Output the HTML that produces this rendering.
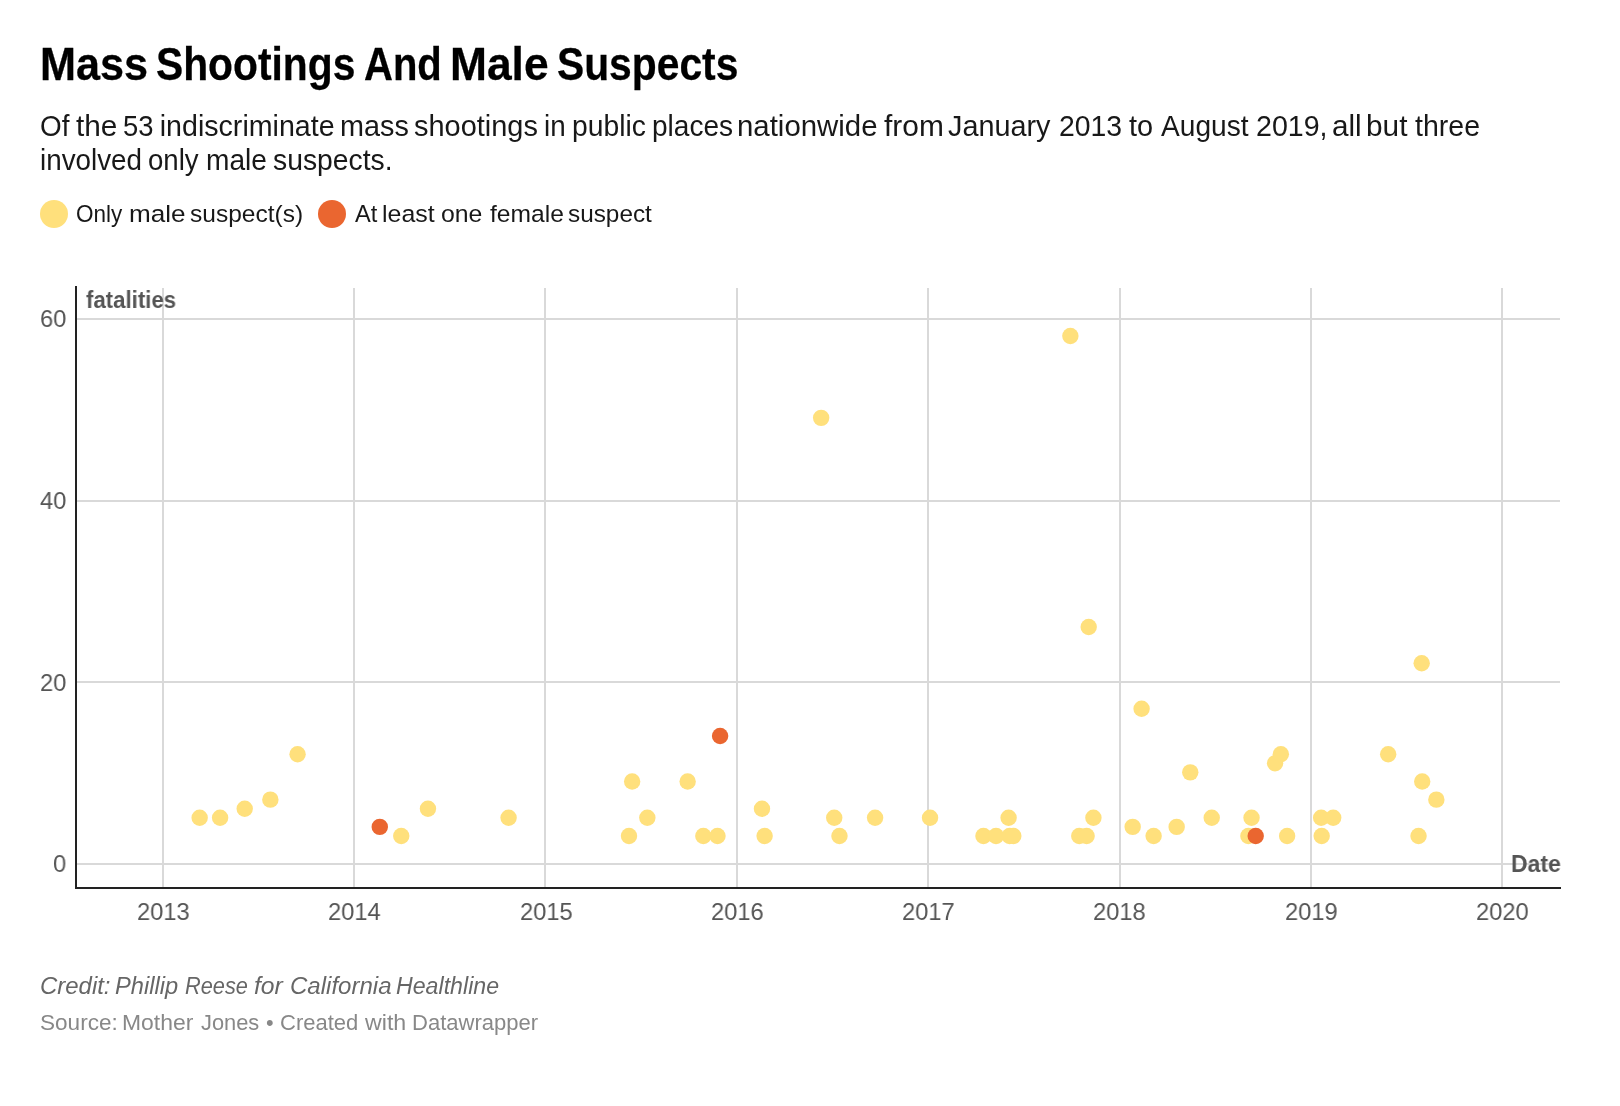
<!DOCTYPE html>
<html lang="en">
<head>
<meta charset="utf-8">
<title>Mass Shootings And Male Suspects</title>
<style>
html,body{margin:0;padding:0;background:#fff;}
body{width:1620px;height:1106px;position:relative;overflow:hidden;font-family:"Liberation Sans",sans-serif;}
.t{position:absolute;white-space:nowrap;line-height:1;transform-origin:0 0;margin:0;padding:0;display:block;will-change:transform;}
.w{position:absolute;top:0;display:block;transform-origin:0 0;}
.gv,.gh,.ax{position:absolute;}
.gv,.gh{background:#d9d9d9;}
.ax{background:#222222;}
.y{background:#ffe07c;}
.r{background:#ea6630;}
#title{-webkit-text-stroke:0.27px #000;}
.dots{position:absolute;left:0;top:0;}
.lg{position:absolute;border-radius:50%;width:28px;height:28px;top:200px;}

</style>
</head>
<body>
<div class="chart">
<div class="gv" style="left:162px;top:288px;width:2px;height:599px"></div>
<div class="gv" style="left:353px;top:288px;width:2px;height:599px"></div>
<div class="gv" style="left:544px;top:288px;width:2px;height:599px"></div>
<div class="gv" style="left:736px;top:288px;width:2px;height:599px"></div>
<div class="gv" style="left:927px;top:288px;width:2px;height:599px"></div>
<div class="gv" style="left:1119px;top:288px;width:2px;height:599px"></div>
<div class="gv" style="left:1310px;top:288px;width:2px;height:599px"></div>
<div class="gv" style="left:1501px;top:288px;width:2px;height:599px"></div>
<div class="gh" style="left:77px;top:318px;width:1483px;height:2px"></div>
<div class="gh" style="left:77px;top:500px;width:1483px;height:2px"></div>
<div class="gh" style="left:77px;top:681px;width:1483px;height:2px"></div>
<div class="gh" style="left:77px;top:863px;width:1483px;height:2px"></div>
<div class="ax" style="left:75px;top:286px;width:2px;height:603px"></div>
<div class="ax" style="left:75px;top:887px;width:1486px;height:2px"></div>
<div class="lg y" style="left:40px"></div><div class="lg r" style="left:318px"></div>
<svg class="dots" width="1620" height="1106" viewBox="0 0 1620 1106">
<circle cx="199.67" cy="817.82" r="8.20" fill="#ffe07c"/>
<circle cx="220.09" cy="817.82" r="8.20" fill="#ffe07c"/>
<circle cx="244.70" cy="808.73" r="8.20" fill="#ffe07c"/>
<circle cx="270.36" cy="799.64" r="8.20" fill="#ffe07c"/>
<circle cx="297.58" cy="754.19" r="8.20" fill="#ffe07c"/>
<circle cx="379.78" cy="826.91" r="8.20" fill="#ea6630"/>
<circle cx="401.25" cy="836.00" r="8.20" fill="#ffe07c"/>
<circle cx="427.95" cy="808.73" r="8.20" fill="#ffe07c"/>
<circle cx="508.58" cy="817.82" r="8.20" fill="#ffe07c"/>
<circle cx="629.00" cy="836.00" r="8.20" fill="#ffe07c"/>
<circle cx="632.14" cy="781.46" r="8.20" fill="#ffe07c"/>
<circle cx="647.33" cy="817.82" r="8.20" fill="#ffe07c"/>
<circle cx="687.64" cy="781.46" r="8.20" fill="#ffe07c"/>
<circle cx="703.35" cy="836.00" r="8.20" fill="#ffe07c"/>
<circle cx="717.48" cy="836.00" r="8.20" fill="#ffe07c"/>
<circle cx="720.10" cy="736.01" r="8.20" fill="#ea6630"/>
<circle cx="761.99" cy="808.73" r="8.20" fill="#ffe07c"/>
<circle cx="764.61" cy="836.00" r="8.20" fill="#ffe07c"/>
<circle cx="821.15" cy="417.86" r="8.20" fill="#ffe07c"/>
<circle cx="834.24" cy="817.82" r="8.20" fill="#ffe07c"/>
<circle cx="839.48" cy="836.00" r="8.20" fill="#ffe07c"/>
<circle cx="875.08" cy="817.82" r="8.20" fill="#ffe07c"/>
<circle cx="930.05" cy="817.82" r="8.20" fill="#ffe07c"/>
<circle cx="983.46" cy="836.00" r="8.20" fill="#ffe07c"/>
<circle cx="996.02" cy="836.00" r="8.20" fill="#ffe07c"/>
<circle cx="1008.59" cy="817.82" r="8.20" fill="#ffe07c"/>
<circle cx="1009.64" cy="836.00" r="8.20" fill="#ffe07c"/>
<circle cx="1013.30" cy="836.00" r="8.20" fill="#ffe07c"/>
<circle cx="1070.37" cy="336.05" r="8.20" fill="#ffe07c"/>
<circle cx="1079.27" cy="836.00" r="8.20" fill="#ffe07c"/>
<circle cx="1086.60" cy="836.00" r="8.20" fill="#ffe07c"/>
<circle cx="1088.70" cy="626.93" r="8.20" fill="#ffe07c"/>
<circle cx="1093.41" cy="817.82" r="8.20" fill="#ffe07c"/>
<circle cx="1132.68" cy="826.91" r="8.20" fill="#ffe07c"/>
<circle cx="1141.58" cy="708.74" r="8.20" fill="#ffe07c"/>
<circle cx="1153.62" cy="836.00" r="8.20" fill="#ffe07c"/>
<circle cx="1176.66" cy="826.91" r="8.20" fill="#ffe07c"/>
<circle cx="1190.27" cy="772.37" r="8.20" fill="#ffe07c"/>
<circle cx="1211.73" cy="817.82" r="8.20" fill="#ffe07c"/>
<circle cx="1248.38" cy="836.00" r="8.20" fill="#ffe07c"/>
<circle cx="1251.53" cy="817.82" r="8.20" fill="#ffe07c"/>
<circle cx="1255.71" cy="836.00" r="8.20" fill="#ea6630"/>
<circle cx="1275.09" cy="763.28" r="8.20" fill="#ffe07c"/>
<circle cx="1280.85" cy="754.19" r="8.20" fill="#ffe07c"/>
<circle cx="1287.13" cy="836.00" r="8.20" fill="#ffe07c"/>
<circle cx="1321.16" cy="817.82" r="8.20" fill="#ffe07c"/>
<circle cx="1321.68" cy="836.00" r="8.20" fill="#ffe07c"/>
<circle cx="1333.20" cy="817.82" r="8.20" fill="#ffe07c"/>
<circle cx="1388.18" cy="754.19" r="8.20" fill="#ffe07c"/>
<circle cx="1418.54" cy="836.00" r="8.20" fill="#ffe07c"/>
<circle cx="1421.69" cy="663.29" r="8.20" fill="#ffe07c"/>
<circle cx="1422.21" cy="781.46" r="8.20" fill="#ffe07c"/>
<circle cx="1436.35" cy="799.64" r="8.20" fill="#ffe07c"/>
</svg>
</div>
<div class="t" id="title" style="left:0;top:41.80px;font-size:45.3px;color:#000000;font-weight:bold;"><span class="w" style="left:39.64px;transform:scaleX(0.9537)">Mass</span> <span class="w" style="left:155.70px;transform:scaleX(0.9002)">Shootings</span> <span class="w" style="left:363.62px;transform:scaleX(0.8839)">And</span> <span class="w" style="left:450.06px;transform:scaleX(0.9792)">Male</span> <span class="w" style="left:557.45px;transform:scaleX(0.9003)">Suspects</span></div>
<div class="t" id="desc1" style="left:0;top:112.10px;font-size:28.6px;color:#181818;"><span class="w" style="left:40.28px;transform:scaleX(0.9741)">Of</span> <span class="w" style="left:76.46px;transform:scaleX(1.0416)">the</span> <span class="w" style="left:122.79px;transform:scaleX(0.9583)">53</span> <span class="w" style="left:159.75px;transform:scaleX(1.0000)">indiscriminate</span> <span class="w" style="left:339.74px;transform:scaleX(1.0069)">mass</span> <span class="w" style="left:414.49px;transform:scaleX(1.0125)">shootings</span> <span class="w" style="left:544.31px;transform:scaleX(0.9722)">in</span> <span class="w" style="left:571.77px;transform:scaleX(0.9896)">public</span> <span class="w" style="left:651.79px;transform:scaleX(0.9810)">places</span> <span class="w" style="left:737.44px;transform:scaleX(1.0282)">nationwide</span> <span class="w" style="left:883.75px;transform:scaleX(1.0455)">from</span> <span class="w" style="left:947.74px;transform:scaleX(1.0074)">January</span> <span class="w" style="left:1058.51px;transform:scaleX(0.9918)">2013</span> <span class="w" style="left:1128.75px;transform:scaleX(1.0109)">to</span> <span class="w" style="left:1160.75px;transform:scaleX(0.9831)">August</span> <span class="w" style="left:1256.00px;transform:scaleX(1.0000)">2019,</span> <span class="w" style="left:1331.96px;transform:scaleX(1.0385)">all</span> <span class="w" style="left:1366.27px;transform:scaleX(1.0416)">but</span> <span class="w" style="left:1414.50px;transform:scaleX(0.9984)">three</span></div>
<div class="t" id="desc2" style="left:0;top:145.70px;font-size:28.6px;color:#181818;"><span class="w" style="left:39.80px;transform:scaleX(0.9728)">involved</span> <span class="w" style="left:147.78px;transform:scaleX(0.9657)">only</span> <span class="w" style="left:205.53px;transform:scaleX(0.9831)">male</span> <span class="w" style="left:272.76px;transform:scaleX(0.9902)">suspects.</span></div>
<div class="t" id="leg1" style="left:0;top:201.70px;font-size:24.5px;color:#181818;"><span class="w" style="left:76.08px;transform:scaleX(0.9184)">Only</span> <span class="w" style="left:129.12px;transform:scaleX(1.0650)">male</span> <span class="w" style="left:190.25px;transform:scaleX(1.0014)">suspect(s)</span></div>
<div class="t" id="leg2" style="left:0;top:201.90px;font-size:24.5px;color:#181818;"><span class="w" style="left:354.80px;transform:scaleX(0.9652)">At</span> <span class="w" style="left:382.47px;transform:scaleX(1.0163)">least</span> <span class="w" style="left:441.49px;transform:scaleX(1.0128)">one</span> <span class="w" style="left:489.70px;transform:scaleX(1.0042)">female</span> <span class="w" style="left:567.81px;transform:scaleX(0.9928)">suspect</span></div>
<div class="t" id="ylab" style="left:86.30px;top:287.70px;font-size:24.6px;color:#555555;font-weight:bold;transform:scaleX(0.9030);">fatalities</div>
<div class="t" id="xlab" style="left:1511.03px;top:851.80px;font-size:24.6px;color:#555555;font-weight:bold;transform:scaleX(0.9333);">Date</div>
<div class="t" id="y60" style="left:39.67px;top:306.70px;font-size:24.8px;color:#555555;transform:scaleX(0.9566);">60</div>
<div class="t" id="y40" style="left:39.67px;top:488.60px;font-size:24.8px;color:#555555;transform:scaleX(0.9566);">40</div>
<div class="t" id="y20" style="left:39.67px;top:670.50px;font-size:24.8px;color:#555555;transform:scaleX(0.9566);">20</div>
<div class="t" id="y0" style="left:53.06px;top:852.40px;font-size:24.8px;color:#555555;transform:scaleX(0.9566);">0</div>
<div class="t" id="x2013" style="left:137.29px;top:899.80px;font-size:24.8px;color:#555555;transform:scaleX(0.9566);">2013</div>
<div class="t" id="x2014" style="left:328.43px;top:899.80px;font-size:24.8px;color:#555555;transform:scaleX(0.9566);">2014</div>
<div class="t" id="x2015" style="left:519.56px;top:899.80px;font-size:24.8px;color:#555555;transform:scaleX(0.9566);">2015</div>
<div class="t" id="x2016" style="left:710.69px;top:899.80px;font-size:24.8px;color:#555555;transform:scaleX(0.9566);">2016</div>
<div class="t" id="x2017" style="left:902.35px;top:899.80px;font-size:24.8px;color:#555555;transform:scaleX(0.9566);">2017</div>
<div class="t" id="x2018" style="left:1093.48px;top:899.80px;font-size:24.8px;color:#555555;transform:scaleX(0.9566);">2018</div>
<div class="t" id="x2019" style="left:1284.61px;top:899.80px;font-size:24.8px;color:#555555;transform:scaleX(0.9566);">2019</div>
<div class="t" id="x2020" style="left:1475.74px;top:899.80px;font-size:24.8px;color:#555555;transform:scaleX(0.9566);">2020</div>
<div class="t" id="credit" style="left:0;top:974.00px;font-size:24.5px;color:#666666;font-style:italic;"><span class="w" style="left:40.12px;transform:scaleX(0.9771)">Credit:</span> <span class="w" style="left:115.29px;transform:scaleX(0.9648)">Phillip</span> <span class="w" style="left:185.36px;transform:scaleX(0.8877)">Reese</span> <span class="w" style="left:254.40px;transform:scaleX(1.0069)">for</span> <span class="w" style="left:289.77px;transform:scaleX(0.9807)">California</span> <span class="w" style="left:395.85px;transform:scaleX(0.9458)">Healthline</span></div>
<div class="t" id="source" style="left:0;top:1012.00px;font-size:22.5px;color:#888888;"><span class="w" style="left:39.80px;transform:scaleX(1.0027)">Source:</span> <span class="w" style="left:121.71px;transform:scaleX(1.0184)">Mother</span> <span class="w" style="left:200.75px;transform:scaleX(0.9703)">Jones</span> <span class="w" style="left:265.90px;transform:scaleX(0.9626)">•</span> <span class="w" style="left:279.77px;transform:scaleX(0.9776)">Created</span> <span class="w" style="left:364.50px;transform:scaleX(1.0308)">with</span> <span class="w" style="left:411.84px;transform:scaleX(0.9794)">Datawrapper</span></div>
</body>
</html>
